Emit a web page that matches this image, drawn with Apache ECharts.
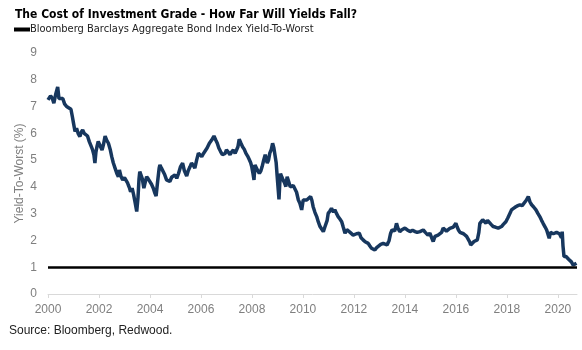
<!DOCTYPE html>
<html>
<head>
<meta charset="utf-8">
<script src="https://cdn.jsdelivr.net/npm/echarts@6/dist/echarts.min.js"></script>
<style>
  html, body { margin: 0; padding: 0; background: #fff; }
  #chart { width: 582px; height: 350px; }
</style>
</head>
<body>
<div id="chart"></div>
<script>
// decimal year of each observation
var dates = [
  2000.00, 2000.05, 2000.10, 2000.17, 2000.23, 2000.30, 2000.38, 2000.43, 2000.50, 2000.58,
  2000.65, 2000.73, 2000.80, 2000.90, 2000.96, 2001.00, 2001.06, 2001.12, 2001.18, 2001.25,
  2001.31, 2001.36, 2001.42, 2001.49, 2001.55, 2001.62, 2001.70, 2001.75, 2001.80, 2001.84,
  2001.88, 2001.92, 2001.97, 2002.00, 2002.06, 2002.12, 2002.18, 2002.24, 2002.30, 2002.37,
  2002.44, 2002.50, 2002.56, 2002.63, 2002.70, 2002.76, 2002.80, 2002.86, 2002.93, 2003.00,
  2003.06, 2003.12, 2003.15, 2003.20, 2003.24, 2003.30, 2003.36, 2003.42, 2003.48, 2003.53,
  2003.57, 2003.60, 2003.65, 2003.70, 2003.76, 2003.82, 2003.87, 2003.93, 2004.00, 2004.06,
  2004.13, 2004.18, 2004.24, 2004.30, 2004.36, 2004.39, 2004.45, 2004.52, 2004.58, 2004.65,
  2004.72, 2004.78, 2004.85, 2004.92, 2004.98, 2005.05, 2005.12, 2005.20, 2005.28, 2005.35,
  2005.44, 2005.50, 2005.57, 2005.63, 2005.70, 2005.76, 2005.83, 2005.90, 2005.97, 2006.03,
  2006.10, 2006.16, 2006.24, 2006.33, 2006.42, 2006.51, 2006.58, 2006.64, 2006.70, 2006.77,
  2006.84, 2006.90, 2006.95, 2007.00, 2007.07, 2007.14, 2007.20, 2007.27, 2007.34, 2007.40,
  2007.45, 2007.50, 2007.56, 2007.63, 2007.70, 2007.76, 2007.83, 2007.89, 2007.95, 2007.99,
  2008.04, 2008.08, 2008.12, 2008.18, 2008.23, 2008.29, 2008.35, 2008.40, 2008.46, 2008.52,
  2008.55, 2008.60, 2008.65, 2008.70, 2008.76, 2008.81, 2008.86, 2008.90, 2008.95, 2008.99,
  2009.03, 2009.06, 2009.09, 2009.12, 2009.18, 2009.22, 2009.28, 2009.33, 2009.38, 2009.44,
  2009.50, 2009.56, 2009.62, 2009.69, 2009.75, 2009.82, 2009.88, 2009.95, 2010.01, 2010.08,
  2010.15, 2010.22, 2010.30, 2010.35, 2010.40, 2010.47, 2010.54, 2010.60, 2010.67, 2010.74,
  2010.80, 2010.86, 2010.90, 2010.95, 2010.99, 2011.06, 2011.12, 2011.20, 2011.25, 2011.32,
  2011.38, 2011.45, 2011.52, 2011.58, 2011.65, 2011.72, 2011.78, 2011.85, 2011.91, 2011.97,
  2012.04, 2012.10, 2012.16, 2012.21, 2012.28, 2012.36, 2012.44, 2012.50, 2012.56, 2012.62,
  2012.69, 2012.75, 2012.82, 2012.88, 2012.95, 2013.05, 2013.15, 2013.22, 2013.30, 2013.38,
  2013.44, 2013.50, 2013.54, 2013.60, 2013.67, 2013.73, 2013.80, 2013.88, 2013.94, 2014.00,
  2014.08, 2014.14, 2014.20, 2014.30, 2014.40, 2014.48, 2014.54, 2014.59, 2014.65, 2014.72,
  2014.80, 2014.90, 2014.98, 2015.05, 2015.11, 2015.18, 2015.24, 2015.30, 2015.37, 2015.44,
  2015.50, 2015.57, 2015.63, 2015.70, 2015.76, 2015.83, 2015.90, 2016.00, 2016.05, 2016.10,
  2016.16, 2016.22, 2016.30, 2016.35, 2016.42, 2016.48, 2016.54, 2016.58, 2016.64, 2016.71,
  2016.78, 2016.84, 2016.90, 2016.94, 2017.00, 2017.05, 2017.12, 2017.18, 2017.24, 2017.30,
  2017.38, 2017.46, 2017.54, 2017.60, 2017.66, 2017.72, 2017.79, 2017.86, 2017.92, 2017.96,
  2018.04, 2018.09, 2018.14, 2018.18, 2018.26, 2018.35, 2018.43, 2018.51, 2018.60, 2018.67,
  2018.76, 2018.84, 2018.90, 2018.97, 2019.05, 2019.14, 2019.22, 2019.29, 2019.36, 2019.42,
  2019.50, 2019.56, 2019.62, 2019.66, 2019.71, 2019.76, 2019.82, 2019.88, 2019.95, 2020.01,
  2020.06, 2020.10, 2020.14, 2020.17, 2020.20, 2020.24, 2020.27, 2020.32, 2020.37, 2020.42,
  2020.47, 2020.53, 2020.60, 2020.66, 2020.73
];

// yield-to-worst (%)
var ytw = [
  7.25, 7.25, 7.40, 7.30, 7.13, 7.45, 7.73, 7.30, 7.23, 7.30,
  7.10, 7.00, 7.00, 6.90, 6.60, 6.38, 6.07, 6.19, 6.00, 5.88,
  6.05, 6.13, 6.00, 6.07, 5.90, 5.69, 5.50, 5.38, 5.20, 4.89,
  5.30, 5.50, 5.70, 5.76, 5.50, 5.38, 5.60, 5.90, 5.75, 5.63,
  5.40, 5.13, 4.90, 4.70, 4.50, 4.38, 4.63, 4.40, 4.26, 4.35,
  4.32, 4.15, 4.07, 3.95, 3.82, 3.95, 3.70, 3.40, 3.08, 3.60,
  4.30, 4.57, 4.60, 4.30, 3.95, 4.20, 4.38, 4.30, 4.26, 4.10,
  3.95, 3.80, 3.66, 4.20, 4.70, 4.82, 4.70, 4.63, 4.45, 4.26,
  4.20, 4.20, 4.36, 4.30, 4.45, 4.32, 4.50, 4.76, 4.89, 4.60,
  4.41, 4.60, 4.75, 4.89, 4.80, 4.70, 5.00, 5.26, 5.20, 5.13,
  5.25, 5.32, 5.45, 5.63, 5.75, 5.90, 5.75, 5.63, 5.45, 5.32,
  5.20, 5.13, 5.25, 5.38, 5.30, 5.20, 5.30, 5.38, 5.25, 5.32,
  5.50, 5.78, 5.65, 5.50, 5.40, 5.26, 5.15, 5.03, 4.90, 4.76,
  4.50, 4.26, 4.82, 4.70, 4.60, 4.50, 4.60, 4.76, 5.00, 5.20,
  5.26, 4.89, 5.00, 5.26, 5.40, 5.63, 5.45, 5.38, 4.90, 4.38,
  3.90, 3.53, 4.10, 4.50, 4.35, 4.26, 4.15, 4.01, 4.38, 4.20,
  4.00, 3.95, 4.05, 4.01, 3.80, 3.51, 3.39, 3.14, 3.51, 3.45,
  3.51, 3.57, 3.64, 3.50, 3.26, 3.05, 2.89, 2.70, 2.52, 2.45,
  2.33, 2.50, 2.46, 2.75, 3.01, 3.10, 3.20, 3.05, 3.15, 3.00,
  2.89, 2.80, 2.70, 2.50, 2.27, 2.40, 2.46, 2.30, 2.33, 2.20,
  2.14, 2.25, 2.20, 2.27, 2.10, 2.02, 1.95, 1.90, 1.89, 1.80,
  1.71, 1.70, 1.64, 1.72, 1.77, 1.85, 1.89, 1.85, 1.83, 2.00,
  2.27, 2.40, 2.46, 2.35, 2.64, 2.45, 2.33, 2.40, 2.45, 2.46,
  2.40, 2.35, 2.33, 2.38, 2.33, 2.30, 2.36, 2.33, 2.40, 2.39,
  2.30, 2.20, 2.27, 2.10, 1.96, 2.15, 2.08, 2.20, 2.14, 2.30,
  2.46, 2.40, 2.35, 2.39, 2.45, 2.52, 2.50, 2.64, 2.50, 2.39,
  2.30, 2.27, 2.25, 2.20, 2.15, 2.08, 1.95, 1.83, 1.90, 1.96,
  1.98, 2.02, 2.30, 2.64, 2.70, 2.77, 2.70, 2.64, 2.75, 2.70,
  2.60, 2.52, 2.50, 2.55, 2.46, 2.50, 2.52, 2.60, 2.65, 2.70,
  2.85, 2.95, 3.05, 3.14, 3.20, 3.26, 3.30, 3.33, 3.30, 3.36,
  3.50, 3.64, 3.45, 3.33, 3.25, 3.14, 3.00, 2.89, 2.75, 2.64,
  2.50, 2.39, 2.20, 2.08, 2.30, 2.33, 2.25, 2.27, 2.30, 2.33,
  2.25, 2.20, 2.10, 2.33, 1.80, 1.40, 1.33, 1.40, 1.39, 1.30,
  1.27, 1.20, 1.08, 1.12, 1.15
];

var yearTicks = [2000, 2002, 2004, 2006, 2008, 2010, 2012, 2014, 2016, 2018, 2020];
var floorLevel = 1;

var seriesName = 'Bloomberg Barclays Aggregate Bond Index Yield-To-Worst';

var narrowFont = "'Liberation Sans Narrow', 'DejaVu Sans Condensed', 'Liberation Sans', sans-serif";
var plainFont = "'Liberation Sans', sans-serif";

var chart = echarts.init(document.getElementById('chart'));

var points = [];
for (var i = 0; i < dates.length; i++) {
  points.push([dates[i], ytw[i]]);
}

var option = {
  backgroundColor: '#fff',
  animation: false,
  title: [{
    text: 'The Cost of Investment Grade - How Far Will Yields Fall?',
    left: 10,
    top: 4,
    textStyle: {
      fontFamily: narrowFont,
      fontSize: 12,
      fontWeight: 'bold',
      color: '#000'
    }
  }, {
    text: 'Source: Bloomberg, Redwood.',
    left: 4,
    top: 320,
    textStyle: {
      fontFamily: plainFont,
      fontSize: 12,
      fontWeight: 'normal',
      color: '#222'
    }
  }],
  legend: {
    left: 14,
    top: 24,
    itemWidth: 16,
    itemHeight: 4,
    itemGap: 0,
    padding: 0,
    textStyle: {
      fontFamily: narrowFont,
      fontSize: 11,
      color: '#222',
      padding: [0, 0, 0, -5]
    },
    data: [{
      name: seriesName,
      icon: 'rect',
      itemStyle: { color: '#000' }
    }]
  },
  grid: {
    left: 48,
    right: 5,
    top: 53,
    bottom: 56
  },
  xAxis: {
    type: 'value',
    min: 2000,
    max: 2020.75,
    interval: 2,
    splitLine: { show: false },
    axisLine: { lineStyle: { color: '#d9d9d9', width: 1 } },
    axisTick: {
      customValues: yearTicks,
      length: 4,
      lineStyle: { color: '#d9d9d9' }
    },
    axisLabel: {
      customValues: yearTicks,
      color: '#7f7f7f',
      fontFamily: plainFont,
      fontSize: 12,
      margin: 10,
      formatter: function(v) {
        return String(v);
      }
    }
  },
  yAxis: {
    type: 'value',
    min: 0,
    max: 9,
    interval: 1,
    name: 'Yield-To-Worst (%)',
    nameLocation: 'middle',
    nameGap: 22,
    nameMoveOverlap: false,
    nameTextStyle: {
      color: '#7f7f7f',
      fontFamily: plainFont,
      fontSize: 12
    },
    splitLine: { show: false },
    axisLine: { show: false },
    axisTick: { show: false },
    axisLabel: {
      color: '#7f7f7f',
      fontFamily: plainFont,
      fontSize: 12,
      margin: 11
    }
  },
  series: [{
    name: seriesName,
    type: 'line',
    data: points,
    showSymbol: false,
    lineStyle: { color: '#17375e', width: 3.5 },
    itemStyle: { color: '#17375e' },
    z: 3,
    markLine: {
      silent: true,
      symbol: 'none',
      label: { show: false },
      lineStyle: { color: '#000', width: 2.5, type: 'solid' },
      data: [{ yAxis: floorLevel }]
    }
  }]
};

chart.setOption(option);
</script>
</body>
</html>
